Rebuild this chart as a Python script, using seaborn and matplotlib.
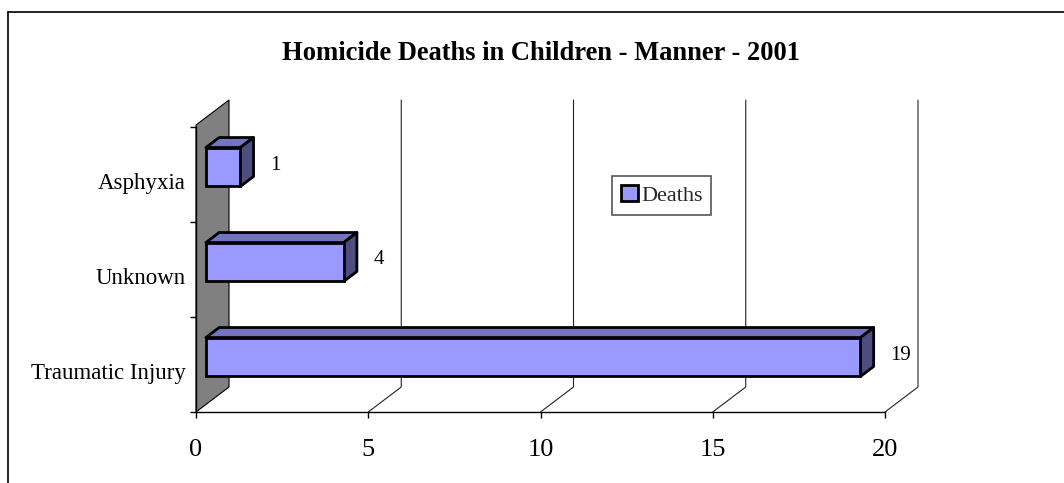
import matplotlib
matplotlib.use("Agg")
import matplotlib.pyplot as plt
import seaborn as sns
import pandas as pd
from matplotlib.patches import Polygon, Patch
from matplotlib.lines import Line2D

# ---- data ----
categories = ["Asphyxia", "Unknown", "Traumatic Injury"]
deaths = [1, 4, 19]
x_ticks = [0, 5, 10, 15, 20]
title = "Homicide Deaths in Children - Manner - 2001"
series_name = "Deaths"

sns.set_theme(style="white")
plt.rcParams["font.family"] = ["Liberation Serif", "DejaVu Serif"]

W, H = 1064, 483
fig = plt.figure(figsize=(W / 100, H / 100), dpi=100)
fig.patch.set_facecolor("white")

# front plane axes (px coordinates of plot area)
L, R, T, B = 196, 885, 127, 412
pos = [L / W, 1 - B / H, (R - L) / W, (B - T) / H]
ax = fig.add_axes(pos)
ax.set_xlim(0, 20)
ax.set_ylim(2.5, -0.5)
ax.patch.set_alpha(0)

px_x = (R - L) / 20.0      # pixels per value unit
px_y = (B - T) / 3.0       # pixels per category unit
Dx = 33 / px_x             # full depth offset (value units)
Dy = 25 / px_y             # full depth offset (category units, upward)

# left wall
ext = 2 / px_y
wall = Polygon([(0, -0.5 - ext), (0, 2.5), (Dx, 2.5 - Dy), (Dx, -0.5 - ext - Dy)],
               closed=True, facecolor="#808080", edgecolor="black", lw=0.8,
               clip_on=False, zorder=1)
ax.add_patch(wall)

# back gridlines + floor diagonals
for v in x_ticks[1:]:
    ax.plot([v + Dx, v + Dx, v], [-0.5 - ext - Dy, 2.5 - Dy, 2.5],
            color="#222222", lw=0.8, clip_on=False, zorder=1)

# spines / ticks
for s in ["top", "right"]:
    ax.spines[s].set_visible(False)
for s in ["left", "bottom"]:
    ax.spines[s].set_color("black")
    ax.spines[s].set_linewidth(1.0)
ax.set_xticks(x_ticks)
ax.set_xticklabels([str(t) for t in x_ticks], fontsize=19)
ax.set_yticks([-0.5, 0.5, 1.5, 2.5])
ax.set_yticklabels([])
ax.tick_params(axis="x", bottom=True, direction="out", length=4.5, width=1, pad=15,
               colors="black")
ax.tick_params(axis="y", left=True, direction="out", length=4.5, width=1, colors="black")
ax.grid(False)

for i, c in enumerate(categories):
    ax.text(-10 / px_x, i + 9.5 / px_y, c, ha="right", va="center", fontsize=16.5,
            color="black")

# bars axes, shifted to 30% of the depth
f0 = 0.3
ax2 = fig.add_axes([pos[0] + f0 * 33 / W, pos[1] + f0 * 25 / H, pos[2], pos[3]])
df = pd.DataFrame({"category": categories, "deaths": deaths})
sns.barplot(data=df, x="deaths", y="category", orient="h", ax=ax2,
            color="#9999FF", saturation=1, width=0.41,
            edgecolor="black", linewidth=2, zorder=3)
ax2.set_xlim(0, 20)
ax2.set_ylim(2.5, -0.5)
ax2.axis("off")
ax2.patch.set_alpha(0)

fd = 0.4
ddx = fd * Dx
ddy = fd * Dy
for p in list(ax2.patches):
    x0, y0 = p.get_x(), p.get_y()
    w, h = p.get_width(), p.get_height()
    x1 = x0 + w
    ytop, ybot = min(y0, y0 + h), max(y0, y0 + h)
    top = Polygon([(x0, ytop), (x0 + ddx, ytop - ddy), (x1 + ddx, ytop - ddy), (x1, ytop)],
                  closed=True, facecolor="#7373C0", edgecolor="black", lw=2,
                  joinstyle="round", clip_on=False, zorder=2)
    side = Polygon([(x1, ytop), (x1 + ddx, ytop - ddy), (x1 + ddx, ybot - ddy), (x1, ybot)],
                   closed=True, facecolor="#4D4D80", edgecolor="black", lw=2,
                   joinstyle="round", clip_on=False, zorder=2)
    ax2.add_patch(top)
    ax2.add_patch(side)
    p.set_clip_on(False)

# data labels
for i, v in enumerate(deaths):
    ax.text(v + 1.15, i - 9.5 / px_y, str(v), ha="left", va="center", fontsize=15,
            color="black", zorder=5)

# legend
handle = Patch(facecolor="#9999FF", edgecolor="black", linewidth=2, label=series_name)
leg = fig.legend(handles=[handle], loc="upper left",
                 bbox_to_anchor=(612 / W, 1 - 176 / H), fontsize=16,
                 frameon=True, fancybox=False, framealpha=1,
                 handlelength=0.75, handleheight=0.75, handletextpad=0.15,
                 borderpad=0.4, borderaxespad=0)
leg.get_frame().set_edgecolor("#555555")
leg.get_frame().set_linewidth(1.2)

# title
fig.text(541.5 / W, 1 - 54 / H, title, ha="center", va="center",
         fontsize=19.1, fontweight="bold", color="black")

# outer chart border (top and left visible)
fig.add_artist(Line2D([8 / W, 1.0], [1 - 11.5 / H, 1 - 11.5 / H],
                      transform=fig.transFigure, color="black", lw=1.2))
fig.add_artist(Line2D([8 / W, 8 / W], [0, 1 - 11.5 / H],
                      transform=fig.transFigure, color="black", lw=1.2))

fig.savefig("out.png", dpi=100, facecolor="white")
